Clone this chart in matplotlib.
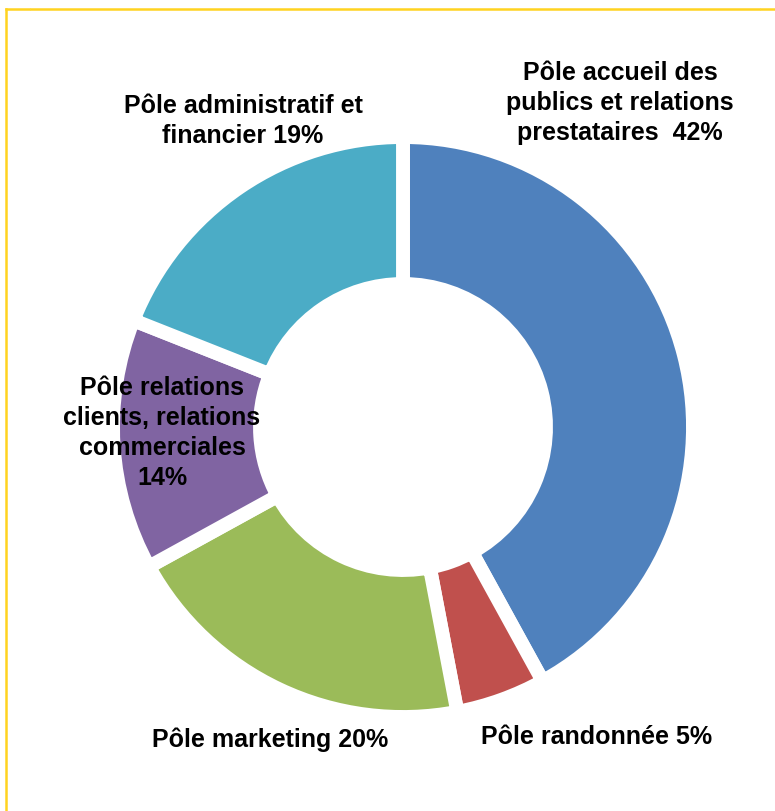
import matplotlib

matplotlib.use("Agg")
from matplotlib import pyplot as plt  # noqa: E402
from matplotlib.lines import Line2D  # noqa: E402

# Répartition par pôle (en %)
poles = [
    "Pôle accueil des\npublics et relations\nprestataires  ",
    "Pôle randonnée ",
    "Pôle marketing ",
    "Pôle relations\nclients, relations\ncommerciales\n",
    "Pôle administratif et\nfinancier ",
]
parts = [42, 5, 20, 14, 19]
colors = ["#4F81BD", "#C0504D", "#9BBB59", "#8064A2", "#4BACC6"]

# label anchor positions in pixels (x, y from top)
label_xy = [(620, 103), (597, 737), (270, 740), (162, 433), (243, 121)]

W, H = 775, 812
plt.rcParams["font.family"] = ["Liberation Sans", "DejaVu Sans"]

fig = plt.figure(figsize=(W / 100, H / 100), dpi=100)
ax = fig.add_axes([0, 0, 1, 1])

cx, cy = 403, H - 428
ax.pie(
    parts,
    colors=colors,
    startangle=90,
    counterclock=False,
    center=(cx, cy),
    radius=290,
    wedgeprops={"width": 147, "edgecolor": "white", "linewidth": 10},
)
ax.set_xlim(0, W)
ax.set_ylim(0, H)
ax.set_aspect("equal")
ax.axis("off")

for name, pct, (x, y) in zip(poles, parts, label_xy):
    ax.text(
        x, H - y, f"{name}{pct}%",
        ha="center", va="center", fontsize=18, fontweight="bold",
        linespacing=1.33, color="black",
    )

# cadre jaune (haut et gauche)
yellow = "#FFD320"
ytop = 1 - 10 / H
for x0, x1 in [(6, 29), (31, 759), (761, W)]:
    fig.add_artist(Line2D([x0 / W, x1 / W], [ytop, ytop], color=yellow, lw=1.8))
fig.add_artist(Line2D([6 / W, 6 / W], [0, ytop], color=yellow, lw=1.8))

fig.savefig("out.png", dpi=100)
